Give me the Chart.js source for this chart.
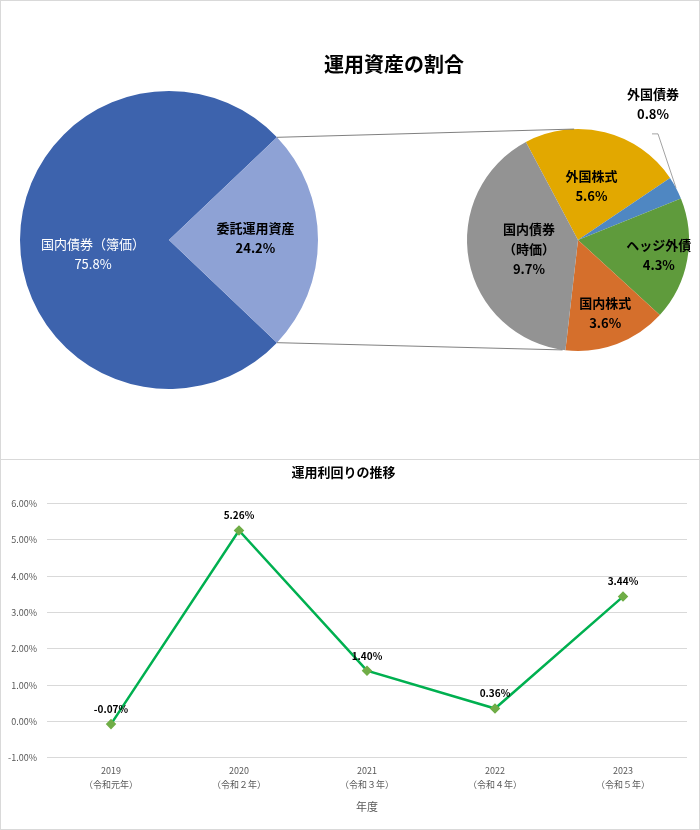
<!DOCTYPE html>
<html lang="ja">
<head>
<meta charset="UTF-8">
<title>運用資産の割合・運用利回りの推移</title>
<script src="https://cdn.jsdelivr.net/npm/chart.js@4.4.1/dist/chart.umd.min.js"></script>
<style>
  body { margin: 0; background: #fff; }
  .panel { position: relative; width: 700px; box-sizing: border-box; border: 1px solid #d9d9d9; overflow: hidden; }
  #top { height: 460px; }
  #bottom { height: 370px; border-top: none; }
  canvas { position: absolute; left: -1px; top: -1px; }
  #bottom canvas { top: 0; }
</style>
</head>
<body>
<div class="panel" id="top">
  <canvas id="pieMain" width="700" height="460"></canvas>
  <canvas id="pieSub" width="700" height="460"></canvas>
</div>
<div class="panel" id="bottom">
  <canvas id="lineChart" width="700" height="370"></canvas>
</div>

<script>
// 運用資産の割合（左の円）
const assetLabels = ['国内債券（簿価）', '委託運用資産'];
const assetValues = [75.8, 24.2];
const assetColors = ['#3D63AD', '#8EA2D5'];

// 委託運用資産の内訳（右の円）
const subLabels = [['外国株式'], ['外国債券'], ['ヘッジ外債'], ['国内株式'], ['国内債券', '（時価）']];
const subValues = [5.6, 0.8, 4.3, 3.6, 9.7];
const subColors = ['#E2A800', '#4F87C2', '#5F9B3C', '#D56F2C', '#939393'];

// 運用利回りの推移
const years = [['2019', '（令和元年）'], ['2020', '（令和２年）'], ['2021', '（令和３年）'], ['2022', '（令和４年）'], ['2023', '（令和５年）']];
const yields = [-0.07, 5.26, 1.40, 0.36, 3.44];
const yMin = -1;
const yMax = 6;
const yStep = 1;

const fontJP = "'Noto Sans CJK JP', 'Noto Sans', sans-serif";

function drawLines(ctx, lines, x, y, step) {
  const top = y - (lines.length - 1) * step / 2;
  lines.forEach((t, i) => ctx.fillText(t, x, top + i * step));
}

function arcPoint(p, angle, ratio) {
  return {
    x: p.x + Math.cos(angle) * p.outerRadius * ratio,
    y: p.y + Math.sin(angle) * p.outerRadius * ratio
  };
}

function getArc(arc) {
  return arc.getProps(['x', 'y', 'startAngle', 'endAngle', 'outerRadius'], true);
}

// 左の円のラベル
const mainLabelsPlugin = {
  id: 'mainLabels',
  afterDatasetsDraw(chart) {
    const ctx = chart.ctx;
    const arcs = chart.getDatasetMeta(0).data;
    const ratios = [0.51, 0.58];
    const shiftY = [14, -2];
    ctx.save();
    ctx.textAlign = 'center';
    ctx.textBaseline = 'middle';
    arcs.forEach((arc, i) => {
      const p = getArc(arc);
      const pos = arcPoint(p, (p.startAngle + p.endAngle) / 2, ratios[i]);
      if (i === 0) {
        ctx.fillStyle = '#ffffff';
        ctx.font = '13px ' + fontJP;
      } else {
        ctx.fillStyle = '#000000';
        ctx.font = 'bold 13px ' + fontJP;
      }
      drawLines(ctx, [assetLabels[i], assetValues[i].toFixed(1) + '%'], pos.x, pos.y + shiftY[i], 20);
    });
    ctx.restore();
  }
};

const mainChart = new Chart(document.getElementById('pieMain'), {
  type: 'pie',
  data: {
    labels: assetLabels,
    datasets: [{
      data: assetValues,
      backgroundColor: assetColors,
      borderWidth: 0
    }]
  },
  options: {
    responsive: false,
    animation: false,
    // 委託運用資産を右向きに
    rotation: 90 + assetValues[1] / 2 / 100 * 360,
    layout: { padding: { left: 20, right: 382, top: 91, bottom: 71 } },
    plugins: { legend: { display: false }, tooltip: { enabled: false } }
  },
  plugins: [mainLabelsPlugin]
});

// 右の円のラベル、タイトル、つなぎ線
const subLabelsPlugin = {
  id: 'subLabels',
  afterDatasetsDraw(chart) {
    const ctx = chart.ctx;
    const arcs = chart.getDatasetMeta(0).data;
    const ratios = [0.5, null, 0.74, 0.7, 0.45];
    ctx.save();
    ctx.textAlign = 'center';
    ctx.textBaseline = 'middle';
    ctx.fillStyle = '#000000';
    ctx.font = 'bold 13px ' + fontJP;
    arcs.forEach((arc, i) => {
      const p = getArc(arc);
      const mid = (p.startAngle + p.endAngle) / 2;
      const lines = subLabels[i].concat([subValues[i].toFixed(1) + '%']);
      if (ratios[i] === null) {
        // 外側のラベル（引き出し線つき）
        const edge = arcPoint(p, mid, 1);
        const elbow = { x: edge.x - 18, y: edge.y - 54 };
        ctx.strokeStyle = '#8c8c8c';
        ctx.lineWidth = 0.8;
        ctx.beginPath();
        ctx.moveTo(elbow.x - 6, elbow.y);
        ctx.lineTo(elbow.x, elbow.y);
        ctx.lineTo(edge.x, edge.y);
        ctx.stroke();
        drawLines(ctx, lines, elbow.x - 5, elbow.y - 30, 20);
        return;
      }
      const pos = arcPoint(p, mid, ratios[i]);
      drawLines(ctx, lines, pos.x, pos.y, 20);
    });

    // つなぎ線
    const big = getArc(mainChart.getDatasetMeta(0).data[1]);
    const small = getArc(arcs[0]);
    const deg = Math.PI / 180;
    const a1 = arcPoint(big, big.startAngle, 1);
    const a2 = arcPoint(big, big.endAngle, 1);
    const b1 = arcPoint(small, -92 * deg, 1);
    const b2 = arcPoint(small, 98 * deg, 1);
    ctx.strokeStyle = '#606060';
    ctx.lineWidth = 0.8;
    ctx.beginPath();
    ctx.moveTo(a1.x, a1.y);
    ctx.lineTo(b1.x, b1.y);
    ctx.moveTo(a2.x, a2.y);
    ctx.lineTo(b2.x, b2.y);
    ctx.stroke();

    // タイトル
    ctx.font = 'bold 20px ' + fontJP;
    ctx.fillText('運用資産の割合', 394, 64);
    ctx.restore();
  }
};

new Chart(document.getElementById('pieSub'), {
  type: 'pie',
  data: {
    labels: subLabels.map(l => l.join('')),
    datasets: [{
      data: subValues,
      backgroundColor: subColors,
      borderWidth: 0
    }]
  },
  options: {
    responsive: false,
    animation: false,
    rotation: -28,
    layout: { padding: { left: 467, right: 11, top: 129, bottom: 109 } },
    plugins: { legend: { display: false }, tooltip: { enabled: false } }
  },
  plugins: [subLabelsPlugin]
});

// 折れ線の値ラベル
const valueLabelsPlugin = {
  id: 'valueLabels',
  afterDatasetsDraw(chart) {
    const ctx = chart.ctx;
    const points = chart.getDatasetMeta(0).data;
    ctx.save();
    ctx.textAlign = 'center';
    ctx.textBaseline = 'middle';
    ctx.fillStyle = '#000000';
    ctx.font = 'bold 10px ' + fontJP;
    points.forEach((pt, i) => {
      ctx.fillText(yields[i].toFixed(2) + '%', pt.x, pt.y - 15);
    });
    ctx.restore();
  }
};

new Chart(document.getElementById('lineChart'), {
  type: 'line',
  data: {
    labels: years,
    datasets: [{
      data: yields,
      borderColor: '#00B050',
      borderWidth: 2.5,
      tension: 0,
      pointStyle: 'rectRot',
      pointRadius: 3.5,
      pointBackgroundColor: '#70AD47',
      pointBorderColor: '#70AD47'
    }]
  },
  options: {
    responsive: false,
    animation: false,
    layout: { padding: { left: 0, right: 13, top: 0, bottom: 7 } },
    plugins: {
      legend: { display: false },
      tooltip: { enabled: false },
      title: {
        display: true,
        text: '運用利回りの推移',
        color: '#000000',
        font: { family: fontJP, size: 13, weight: 'bold' },
        padding: { top: 4, bottom: 24 }
      }
    },
    scales: {
      x: {
        offset: true,
        grid: { display: false, drawTicks: false },
        border: { display: false },
        ticks: { color: '#595959', font: { family: fontJP, size: 9, lineHeight: 1.55 }, padding: 6, maxRotation: 0 },
        title: { display: true, text: '年度', color: '#595959', font: { family: fontJP, size: 11 }, padding: { top: 2, bottom: 10 } }
      },
      y: {
        min: yMin,
        max: yMax,
        ticks: {
          stepSize: yStep,
          color: '#595959',
          font: { family: fontJP, size: 9 },
          padding: 10,
          callback: v => v.toFixed(2) + '%'
        },
        grid: { color: '#d9d9d9', drawTicks: false },
        border: { display: false },
        afterFit: s => { s.width = 47; }
      }
    }
  },
  plugins: [valueLabelsPlugin]
});
</script>
</body>
</html>
